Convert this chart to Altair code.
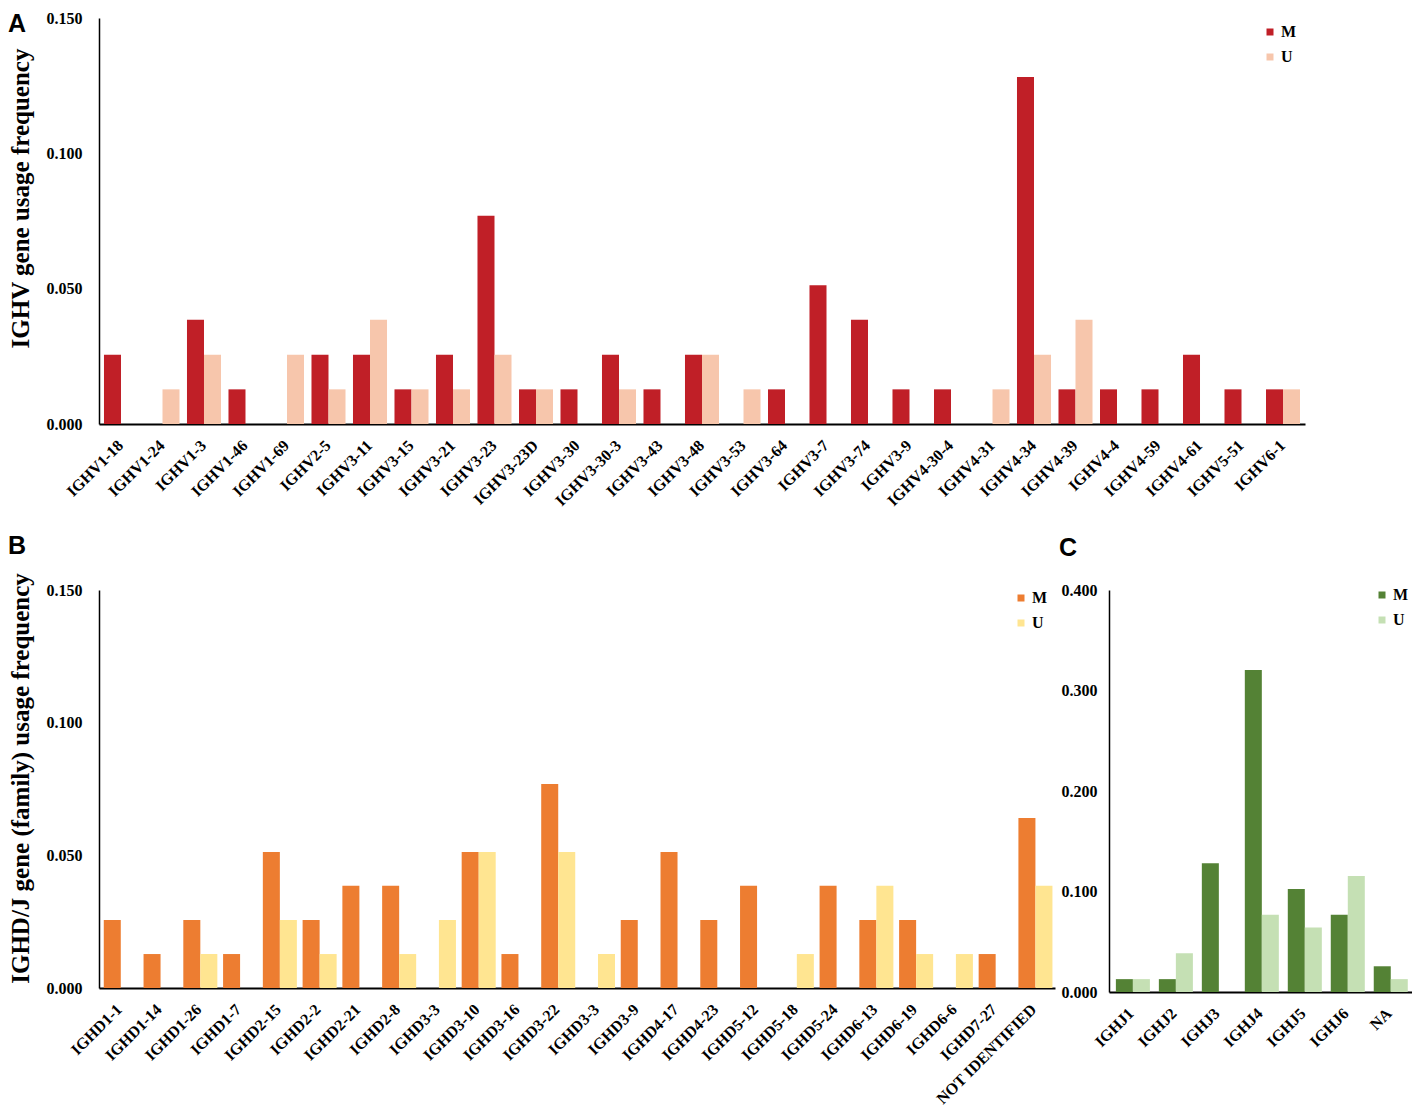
import json
import altair as alt
import pandas as pd

# ---------------- data ----------------
v_genes = ["IGHV1-18", "IGHV1-24", "IGHV1-3", "IGHV1-46", "IGHV1-69", "IGHV2-5",
           "IGHV3-11", "IGHV3-15", "IGHV3-21", "IGHV3-23", "IGHV3-23D", "IGHV3-30",
           "IGHV3-30-3", "IGHV3-43", "IGHV3-48", "IGHV3-53", "IGHV3-64", "IGHV3-7",
           "IGHV3-74", "IGHV3-9", "IGHV4-30-4", "IGHV4-31", "IGHV4-34", "IGHV4-39",
           "IGHV4-4", "IGHV4-59", "IGHV4-61", "IGHV5-51", "IGHV6-1"]
v_m = [0.0256, 0.0, 0.0385, 0.0128, 0.0, 0.0256,
       0.0256, 0.0128, 0.0256, 0.0769, 0.0128, 0.0128,
       0.0256, 0.0128, 0.0256, 0.0, 0.0128, 0.0513,
       0.0385, 0.0128, 0.0128, 0.0, 0.1282, 0.0128,
       0.0128, 0.0128, 0.0256, 0.0128, 0.0128]
v_u = [0.0, 0.0128, 0.0256, 0.0, 0.0256, 0.0128,
       0.0385, 0.0128, 0.0128, 0.0256, 0.0128, 0.0,
       0.0128, 0.0, 0.0256, 0.0128, 0.0, 0.0,
       0.0, 0.0, 0.0, 0.0128, 0.0256, 0.0385,
       0.0, 0.0, 0.0, 0.0, 0.0128]

d_genes = ["IGHD1-1", "IGHD1-14", "IGHD1-26", "IGHD1-7", "IGHD2-15", "IGHD2-2",
           "IGHD2-21", "IGHD2-8", "IGHD3-3", "IGHD3-10", "IGHD3-16", "IGHD3-22",
           "IGHD3-3", "IGHD3-9", "IGHD4-17", "IGHD4-23", "IGHD5-12", "IGHD5-18",
           "IGHD5-24", "IGHD6-13", "IGHD6-19", "IGHD6-6", "IGHD7-27", "NOT IDENTIFIED"]
d_m = [0.0256, 0.0128, 0.0256, 0.0128, 0.0513, 0.0256,
       0.0385, 0.0385, 0.0, 0.0513, 0.0128, 0.0769,
       0.0, 0.0256, 0.0513, 0.0256, 0.0385, 0.0,
       0.0385, 0.0256, 0.0256, 0.0, 0.0128, 0.0641]
d_u = [0.0, 0.0, 0.0128, 0.0, 0.0256, 0.0128,
       0.0, 0.0128, 0.0256, 0.0513, 0.0, 0.0513,
       0.0128, 0.0, 0.0, 0.0, 0.0, 0.0128,
       0.0, 0.0385, 0.0128, 0.0128, 0.0, 0.0385]

j_genes = ["IGHJ1", "IGHJ2", "IGHJ3", "IGHJ4", "IGHJ5", "IGHJ6", "NA"]
j_m = [0.0128, 0.0128, 0.1282, 0.3205, 0.1026, 0.0769, 0.0256]
j_u = [0.0128, 0.0385, 0.0, 0.0769, 0.0641, 0.1154, 0.0128]

groups = ["M", "U"]
a_colors = ["#C01F27", "#F7C6AC"]
b_colors = ["#ED7D31", "#FFE591"]
c_colors = ["#548235", "#C5E0B4"]

a_ticks = [0.0, 0.05, 0.10, 0.15]
b_ticks = [0.0, 0.05, 0.10, 0.15]
c_ticks = [0.0, 0.1, 0.2, 0.3, 0.4]

FONT = "Liberation Serif"
LETTER_FONT = "Liberation Sans"


def make_df(genes, m, u):
    rows = []
    for i, (g, a, b) in enumerate(zip(genes, m, u)):
        rows.append({"idx": i, "gene": g, "grp": groups[0], "value": a})
        rows.append({"idx": i, "gene": g, "grp": groups[1], "value": b})
    return pd.DataFrame(rows)


def panel(letter, genes, m, u, colors, ticks, width, height, ytitle,
          pi, po, legend_xy, letter_xy, label_pad, title_y=None):
    df = make_df(genes, m, u)
    label_expr = json.dumps(genes) + "[datum.value]"
    yaxis_kwargs = dict(
        values=ticks, format=".3f", ticks=False, tickSize=0,
        labelPadding=label_pad, labelFont=FONT, labelFontWeight="bold",
        labelFontSize=16, labelColor="black", domainColor="black",
        domainWidth=1.5, grid=False,
    )
    if ytitle:
        yaxis_kwargs.update(title=ytitle, titleFont=FONT, titleFontWeight="bold",
                            titleFontSize=25, titleColor="black", titlePadding=13)
        if title_y is not None:
            yaxis_kwargs.update(titleY=title_y)
    else:
        yaxis_kwargs.update(title=None)

    bars = alt.Chart(df).mark_bar().encode(
        x=alt.X("idx:O", sort=None,
                scale=alt.Scale(paddingInner=pi, paddingOuter=po),
                axis=alt.Axis(title=None, labelExpr=label_expr, labelAngle=-45,
                              labelAlign="right", labelBaseline="top",
                              ticks=False, tickSize=0, labelPadding=13, labelOffset=-6,
                              domainWidth=2, domainColor="black",
                              labelFont=FONT, labelFontWeight="bold",
                              labelFontSize=16, labelColor="black")),
        xOffset=alt.XOffset("grp:N", scale=alt.Scale(domain=groups, paddingInner=0)),
        y=alt.Y("value:Q",
                scale=alt.Scale(domain=[ticks[0], ticks[-1]], nice=False),
                axis=alt.Axis(**yaxis_kwargs)),
        color=alt.Color("grp:N",
                        scale=alt.Scale(domain=groups, range=colors),
                        legend=alt.Legend(title=None, orient="none",
                                          legendX=legend_xy[0], legendY=legend_xy[1],
                                          symbolType="square", symbolSize=49,
                                          symbolStrokeWidth=0,
                                          labelFont=FONT, labelFontWeight="bold",
                                          labelFontSize=16, labelColor="black",
                                          labelOffset=3, rowPadding=9, padding=0)),
    )
    lab = alt.Chart(pd.DataFrame({"t": [letter]})).mark_text(
        font=LETTER_FONT, fontWeight="bold", fontSize=25, align="left",
        baseline="top", color="black",
    ).encode(text="t:N", x=alt.value(letter_xy[0]), y=alt.value(letter_xy[1]))
    return alt.layer(bars, lab).properties(width=width, height=height)


chart_a = panel("A", v_genes, v_m, v_u, a_colors, a_ticks, 1206, 406,
                "IGHV gene usage frequency", 0.18, 0.12, (1163, 6), (-91, -6), 17,
                title_y=180)
chart_b = panel("B", d_genes, d_m, d_u, b_colors, b_ticks, 956, 398,
                "IGHD/J gene (family) usage frequency", 0.2, 0.12, (914, 0), (-91, -56), 17,
                title_y=188)
chart_c = panel("C", j_genes, j_m, j_u, c_colors, c_ticks, 303, 402,
                None, 0.27, 0.16, (265, -3), (-50, -54), 12)

bottom = alt.hconcat(chart_b, chart_c, spacing=4).resolve_scale(color="independent")
chart = alt.vconcat(chart_a, bottom, spacing=25).resolve_scale(
    color="independent"
).properties(padding={"left": 0, "top": 2, "right": 0, "bottom": 0}).configure_view(stroke=None)

chart.save("out.html", embed_options={"renderer": "svg", "actions": False})
